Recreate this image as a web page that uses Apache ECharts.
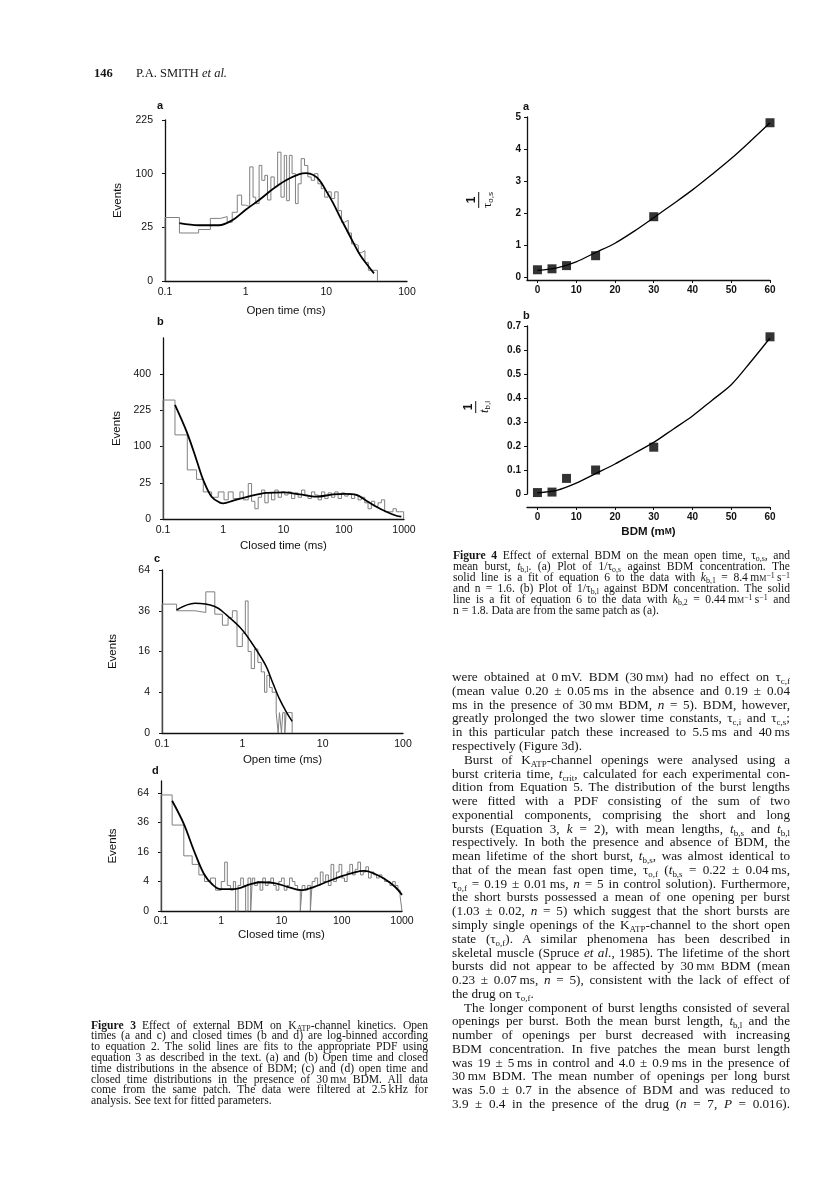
<!DOCTYPE html>
<html><head><meta charset="utf-8">
<script src="https://cdn.jsdelivr.net/npm/echarts@6/dist/echarts.min.js"></script>
<style>
html,body{margin:0;padding:0;background:#fff;}
#page{position:relative;width:816px;height:1200px;overflow:hidden;background:#fff;}
#chart{position:absolute;left:0;top:0;width:816px;height:1200px;}
.ln{position:absolute;font-family:"Liberation Serif","Times New Roman",serif;color:#151515;white-space:nowrap;}
.ln sub{font-size:68%;vertical-align:-0.3em;line-height:0;}
.ln sup{font-size:68%;vertical-align:0.4em;line-height:0;}
.sc{font-variant:small-caps;}
.frac{position:absolute;transform:translate(-50%,-50%) rotate(-90deg);font-family:"Liberation Sans",Arial,sans-serif;color:#111;text-align:center;line-height:1;}
.frac .num{font-weight:bold;font-size:12px;padding-bottom:1px;}
.frac .den{border-top:1.3px solid #111;font-family:"Liberation Serif",serif;font-size:13px;padding-top:1px;}
.frac sub{font-family:"Liberation Sans",sans-serif;font-size:8px;vertical-align:-0.2em;}
</style></head>
<body><div id="page"><div id="chart"></div></div>
<script>
// ---------------- DATA ----------------
// Figure 3a : open times, no BDM  (bin edges in ms, events per bin)
const edgesA = [0.1,0.151,0.261,0.365,0.487,0.59,0.681,0.787,0.891,1.0,1.122,1.235,1.334,1.468,1.585,1.728,1.866,2.054,2.26,2.49,2.74,3.01,3.22,3.48,3.76,4.14,4.47,4.87,5.36,5.9,6.49,7.15,7.87,8.66,9.53,10.5,11.5,12.7,14.0,15.4,16.9,18.7,20.5,22.6,24.9,27.4,30.1,33.2,36.5,40.2,43.0];
const countsA = [35,20,23,34,36,30,41,64,50,48,113,61,52,116,88,97,57,94,77,144,61,137,56,137,100,52,82,130,116,94,88,100,82,74,61,69,59,69,43,30,32,20,12,11,7,8,3,1,1,1];
const fitA_t = [0.151,0.261,0.464,0.681,1.0,1.468,2.154,3.162,4.64,5.62,6.81,8.25,10,12.1,14.7,17.8,21.5,26.1,31.6,39];
const fitA_n = [29,27,27,32,44,57,73,88,99,101,98,88,70,53,36,23,13,6,2.5,0.5];

// Figure 3b : closed times, no BDM
const edgesB = [0.1,0.158,0.253,0.361,0.466,0.641,0.826,1.03,1.21,1.46,1.89,2.15,2.6,2.95,3.35,3.8,4.32,4.9,5.57,6.32,7.18,8.16,9.27,10.5,11.9,13.6,15.4,17.5,19.9,22.6,25.6,29.1,33.1,37.6,42.7,48.4,55,62.5,71,80.6,91.5,104,118,134,152,173,196,223,253,287,326,371,421,478,523,578,657,746,847,986];
const countsB = [270,135,46,30,14,9,14,7,14,8,14,7,24,6,2,9,16,5,13,7,16,9,14,11,14,8,13,9,16,11,8,14,11,7,14,8,13,9,14,8,13,10,12,8,11,7,9,5,2,6,3,5,7,1,1,1,2,1,1];
const fitB_t = [0.158,0.253,0.361,0.466,0.641,0.88,1.0,1.46,2.77,5.23,10.2,18.7,35.3,66.4,104,162,237,348,510,746,904];
const fitB_n = [248,140,66,29,9.5,5.1,4.7,6.4,10,13,13.6,11.5,9.5,11.5,12,11,6.4,2.9,1,0.2,0.1];

// Figure 3c : open times, 30 mM BDM
const edgesC = [0.1,0.152,0.257,0.351,0.454,0.565,0.664,0.752,0.859,1.0,1.09,1.18,1.29,1.42,1.56,1.72,1.89,2.02,2.18,2.35,2.64,2.79,2.90,3.07,3.19,3.38,3.51,3.72,3.86,4.17];
const countsC = [40,36,35,48,34,28,32,36,18,24,42,16,10,17,12,9,4,8,5,4,1,0,1,0,1,0,1,1,1];
const fitC_t = [0.152,0.257,0.454,0.633,1.0,1.49,1.98,2.4,2.9,3.51,4.17];
const fitC_n = [36.5,40.5,38.5,33.6,25.6,16.7,10.7,6,2.8,1.1,0.33];

// Figure 3d : closed times, 30 mM BDM
const edgesD = [0.1,0.153,0.239,0.329,0.425,0.528,0.664,0.804,1.0,1.14,1.26,1.43,1.59,1.73,1.9,2.1,2.33,2.54,2.78,3.08,3.29,3.59,3.98,4.41,4.89,5.41,6.0,6.64,7.36,8.15,9.03,10,11.1,12.3,13.6,15.1,16.7,18.5,20.5,22.1,24.5,27.1,30.1,32.4,35.9,39.8,44.1,48.9,54.1,60,66.4,73.6,81.5,90.3,100,111,123,136,151,167,185,205,227,251,278,308,342,378,419,464,514,570,631,699,774,858,930,1000];
const countsD = [62,34,14,10,6,4,5,2,4,11,3,2,4,0,3,5,3,0,5,0,5,3,4,2,5,3,4,5,3,2,4,5,2,3,5,4,3,2,0,3,2,3,0,4,5,3,7,4,6,3,10,4,7,10,5,4,7,10,6,8,11,6,7,9,5,7,6,5,6,5,4,4,3,4,3,2,1];
const fitD_t = [0.153,0.239,0.35,0.514,0.708,0.975,1.63,3.08,4.52,7.55,12.6,21,35,58.5,97.5,163,237,350,516,764,1000];
const fitD_n = [56,35,17,6.4,3.3,2.2,2.2,3.3,3.8,3.6,2.7,2.0,2.7,4.0,5.5,6.9,7.4,6.4,4.7,2.7,1.2];

// Figure 4 : rates against BDM concentration (mM)
const bdmConc = [0,3.75,7.5,15,30,60];
const invTauOS = [0.22,0.25,0.35,0.66,1.88,4.82];
const invTbL = [0.006,0.008,0.065,0.1,0.195,0.655];
const fit4a_x = [0,5,10,15,20,25,30,35,40,45,50,55,60];
const fit4a_y = [0.2,0.28,0.47,0.76,1.05,1.43,1.85,2.28,2.72,3.2,3.7,4.25,4.82];
const fit4b_x = [0,5,10,15,20,25,30,35,40,45,50,55,60];
const fit4b_y = [0.005,0.015,0.045,0.085,0.125,0.17,0.215,0.27,0.325,0.39,0.455,0.55,0.65];

// Tick labels
const eventTicksAB = [0,25,100,225];
const eventTicksB = [0,25,100,225,400];
const eventTicksCD = [0,4,16,36,64];
const concTicks = [0,10,20,30,40,50,60];
const rateTicksA = [0,1,2,3,4,5];
const rateTicksB = [0,0.1,0.2,0.3,0.4,0.5,0.6,0.7];

// ---------------- BUILD ----------------
const SANS = '"Liberation Sans", Arial, sans-serif';
function stairs(edges, counts){
  const pts=[[edges[0],0]];
  for(let i=0;i<counts.length;i++){const h=Math.sqrt(counts[i]);pts.push([edges[i],h],[edges[i+1],h]);}
  pts.push([edges[edges.length-1],0]);
  return pts;
}
function sq(t,n){return t.map((x,i)=>[x,Math.sqrt(n[i])]);}
const axLine = {show:true,onZero:false,lineStyle:{color:'#111',width:1.3}};
function histX(g,max,name,gap,margin){
  return {type:'log',logBase:10,gridIndex:g,min:0.1,max:max,splitLine:{show:false},
    axisLine:axLine,axisTick:{show:false},minorTick:{show:false},
    axisLabel:{margin:margin||6,fontSize:10.5,color:'#111',fontFamily:SANS,
      formatter:v=>v<0.5?'0.1':String(Math.round(v))},
    name:name,nameLocation:'middle',nameGap:gap,
    nameTextStyle:{fontSize:11.5,color:'#111',fontFamily:SANS}};
}
function histY(g,maxCount,ticks,gap){
  const cv=ticks.map(Math.sqrt);
  return {type:'value',gridIndex:g,min:0,max:Math.sqrt(maxCount),splitLine:{show:false},
    axisLine:axLine,axisTick:{show:true,length:3,customValues:cv,lineStyle:{color:'#111'}},
    axisLabel:{customValues:cv,margin:12,fontSize:10.5,color:'#111',fontFamily:SANS,
      formatter:v=>String(Math.round(v*v))},
    name:'Events',nameLocation:'middle',nameRotate:90,nameGap:gap,
    nameTextStyle:{fontSize:11.5,color:'#111',fontFamily:SANS}};
}
function concX(g,offset,name){
  const o={type:'value',gridIndex:g,min:-2.7,max:60,offset:offset,splitLine:{show:false},
    axisLine:axLine,axisTick:{show:true,length:3,customValues:concTicks,lineStyle:{color:'#111'}},
    axisLabel:{customValues:concTicks,margin:5,fontSize:10,fontWeight:'bold',color:'#111',fontFamily:SANS}};
  if(name){o.name=name;o.nameLocation='middle';o.nameGap=19;
    o.nameTextStyle={fontSize:11.5,fontWeight:'bold',color:'#111',fontFamily:SANS,rich:{s:{fontSize:8.5,fontWeight:'bold',fontFamily:SANS,color:'#111'}}};}
  return o;
}
function rateY(g,min,max,ticks){
  return {type:'value',gridIndex:g,min:min,max:max,splitLine:{show:false},
    axisLine:axLine,axisTick:{show:true,length:3,customValues:ticks,lineStyle:{color:'#111'}},
    axisLabel:{customValues:ticks,margin:6,fontSize:10,fontWeight:'bold',color:'#111',fontFamily:SANS,
      formatter:v=>v===0?'0':String(Math.round(v*10)/10)}};
}
const histLine = {color:'#808080',width:1};
function hs(i,data){return {type:'line',xAxisIndex:i,yAxisIndex:i,data:data,symbol:'none',lineStyle:histLine,silent:true,z:2};}
function fs(i,data,w){return {type:'line',xAxisIndex:i,yAxisIndex:i,data:data,symbol:'none',smooth:0.35,lineStyle:{color:'#000',width:w||1.8},silent:true,z:3};}
function letter(t,l,tp){return {type:'text',left:l,top:tp,style:{text:t,font:'bold 11px "Liberation Sans"',fill:'#111'}};}

const option = {
  animation:false,
  backgroundColor:'transparent',
  grid:[
    {left:165,top:120,width:242,height:161,outerBoundsMode:'none'},
    {left:163,top:338,width:241,height:181,outerBoundsMode:'none'},
    {left:162,top:570,width:241,height:163,outerBoundsMode:'none'},
    {left:161,top:781,width:241,height:130,outerBoundsMode:'none'},
    {left:527,top:117,width:243,height:163,outerBoundsMode:'none'},
    {left:527,top:326,width:243,height:168,outerBoundsMode:'none'}
  ],
  xAxis:[
    histX(0,100,'Open time (ms)',24),
    histX(1,1000,'Closed time (ms)',21),
    histX(2,100,'Open time (ms)',21),
    histX(3,1000,'Closed time (ms)',18,5),
    concX(4,0,null),
    concX(5,13,'BDM (m{s|M})')
  ],
  yAxis:[
    histY(0,225,eventTicksAB,41),
    histY(1,625,eventTicksB,40),
    histY(2,64,eventTicksCD,43),
    histY(3,77.8,eventTicksCD,42),
    rateY(4,-0.1,5,rateTicksA),
    rateY(5,0,0.7,rateTicksB)
  ],
  series:[
    hs(0,stairs(edgesA,countsA)), fs(0,sq(fitA_t,fitA_n)),
    hs(1,stairs(edgesB,countsB)), fs(1,sq(fitB_t,fitB_n)),
    hs(2,stairs(edgesC,countsC)), fs(2,sq(fitC_t,fitC_n),1.5),
    hs(3,stairs(edgesD,countsD)), fs(3,sq(fitD_t,fitD_n)),
    {type:'line',xAxisIndex:4,yAxisIndex:4,data:fit4a_x.map((x,i)=>[x,fit4a_y[i]]),symbol:'none',smooth:0.3,lineStyle:{color:'#000',width:1.3},z:2},
    {type:'scatter',xAxisIndex:4,yAxisIndex:4,data:bdmConc.map((x,i)=>[x,invTauOS[i]]),symbol:'rect',symbolSize:9,itemStyle:{color:'#000'},z:3},
    {type:'line',xAxisIndex:5,yAxisIndex:5,data:fit4b_x.map((x,i)=>[x,fit4b_y[i]]),symbol:'none',smooth:0.3,lineStyle:{color:'#000',width:1.3},z:2},
    {type:'scatter',xAxisIndex:5,yAxisIndex:5,data:bdmConc.map((x,i)=>[x,invTbL[i]]),symbol:'rect',symbolSize:9,itemStyle:{color:'#000'},z:3}
  ],
  graphic:[
    letter('a',157,100), letter('b',157,316), letter('c',154,553), letter('d',152,765),
    letter('a',523,101), letter('b',523,310)
  ]
};
const chart = echarts.init(document.getElementById('chart'),null,{renderer:'canvas'});
chart.setOption(option);

// ---------------- TEXT ----------------
const page=document.getElementById('page');
const MM='m<span class="sc">m</span>';
const headerNum='146', headerAuth='P.A. SMITH <i>et al.</i>';
const fig3Caption=[
 '<b>Figure 3</b>&ensp;Effect of external BDM on K<sub>ATP</sub>-channel kinetics. Open',
 'times (a and c) and closed times (b and d) are log-binned according',
 'to equation 2. The solid lines are fits to the appropriate PDF using',
 'equation 3 as described in the text. (a) and (b) Open time and closed',
 'time distributions in the absence of BDM; (c) and (d) open time and',
 'closed time distributions in the presence of 30&thinsp;'+MM+' BDM. All data',
 'come from the same patch. The data were filtered at 2.5&thinsp;kHz for',
 'analysis. See text for fitted parameters.'
];
const fig4Caption=[
 '<b>Figure 4</b>&ensp;Effect of external BDM on the mean open time, τ<sub>o,s</sub>, and',
 'mean burst, <i>t</i><sub>b,l</sub>. (a) Plot of 1/τ<sub>o,s</sub> against BDM concentration. The',
 'solid line is a fit of equation 6 to the data with <i>k</i><sub>b,1</sub> = 8.4&thinsp;'+MM+'<sup>−1</sup>&thinsp;s<sup>−1</sup>',
 'and n = 1.6. (b) Plot of 1/τ<sub>b,l</sub> against BDM concentration. The solid',
 'line is a fit of equation 6 to the data with <i>k</i><sub>b,2</sub> = 0.44&thinsp;'+MM+'<sup>−1</sup>&thinsp;s<sup>−1</sup> and',
 'n = 1.8. Data are from the same patch as (a).'
];
const bodyText=[
 'were obtained at 0&thinsp;mV. BDM (30&thinsp;'+MM+') had no effect on τ<sub>c,f</sub>',
 '(mean value 0.20 ± 0.05&thinsp;ms in the absence and 0.19 ± 0.04',
 'ms in the presence of 30&thinsp;'+MM+' BDM, <i>n</i> = 5). BDM, however,',
 'greatly prolonged the two slower time constants, τ<sub>c,i</sub> and τ<sub>c,s</sub>;',
 'in this particular patch these increased to 5.5&thinsp;ms and 40&thinsp;ms',
 'respectively (Figure 3d).',
 'Burst of K<sub>ATP</sub>-channel openings were analysed using a',
 'burst criteria time, <i>t</i><sub>crit</sub>, calculated for each experimental con-',
 'dition from Equation 5. The distribution of the burst lengths',
 'were fitted with a PDF consisting of the sum of two',
 'exponential components, comprising the short and long',
 'bursts (Equation 3, <i>k</i> = 2), with mean lengths, <i>t</i><sub>b,s</sub> and <i>t</i><sub>b,l</sub>',
 'respectively. In both the presence and absence of BDM, the',
 'mean lifetime of the short burst, <i>t</i><sub>b,s</sub>, was almost identical to',
 'that of the mean fast open time, τ<sub>o,f</sub> (<i>t</i><sub>b,s</sub> = 0.22 ± 0.04&thinsp;ms,',
 'τ<sub>o,f</sub> = 0.19 ± 0.01&thinsp;ms, <i>n</i> = 5 in control solution). Furthermore,',
 'the short bursts possessed a mean of one opening per burst',
 '(1.03 ± 0.02, <i>n</i> = 5) which suggest that the short bursts are',
 'simply single openings of the K<sub>ATP</sub>-channel to the short open',
 'state (τ<sub>o,f</sub>). A similar phenomena has been described in',
 'skeletal muscle (Spruce <i>et al</i>., 1985). The lifetime of the short',
 'bursts did not appear to be affected by 30&thinsp;'+MM+' BDM (mean',
 '0.23 ± 0.07&thinsp;ms, <i>n</i> = 5), consistent with the lack of effect of',
 'the drug on τ<sub>o,f</sub>.',
 'The longer component of burst lengths consisted of several',
 'openings per burst. Both the mean burst length, <i>t</i><sub>b,l</sub> and the',
 'number of openings per burst decreased with increasing',
 'BDM concentration. In five patches the mean burst length',
 'was 19 ± 5&thinsp;ms in control and 4.0 ± 0.9&thinsp;ms in the presence of',
 '30&thinsp;'+MM+' BDM. The mean number of openings per long burst',
 'was 5.0 ± 0.7 in the absence of BDM and was reduced to',
 '3.9 ± 0.4 in the presence of the drug (<i>n</i> = 7, <i>P</i> = 0.016).'
];

function placeLines(lines,o){
  lines.forEach((html,i)=>{
    const d=document.createElement('div');d.className='ln';
    const cy=o.top+i*o.step;
    d.style.left=o.left+'px';d.style.top=(cy-o.step/2)+'px';
    d.style.height=o.step+'px';d.style.lineHeight=o.step+'px';d.style.fontSize=o.size+'px';
    const ind=(o.indent||[]).includes(i)?(o.indentPx||12):0;
    d.style.paddingLeft=ind+'px';
    const s=document.createElement('span');s.innerHTML=html;d.appendChild(s);page.appendChild(d);
    if(!(o.last||[]).includes(i)){
      const avail=o.width-ind;
      let w=s.getBoundingClientRect().width;
      if(w>avail){d.style.fontSize=(o.size*avail/w*0.995)+'px';w=s.getBoundingClientRect().width;}
      const n=(s.textContent.match(/[ \u00a0]/g)||[]).length;
      if(n>0)s.style.wordSpacing=((avail-w)/n)+'px';
    }
  });
}
function placeText(html,left,cy,size,extra){
  const d=document.createElement('div');d.className='ln';d.innerHTML=html;
  d.style.left=left+'px';d.style.top=(cy-size*0.6)+'px';d.style.fontSize=size+'px';d.style.lineHeight=(size*1.2)+'px';
  if(extra)Object.assign(d.style,extra);page.appendChild(d);
}
placeText(headerNum,94,73,12.5,{fontWeight:'bold'});
placeText(headerAuth,136,73,12.5);
placeLines(fig3Caption,{left:91,top:1026,step:10.8,width:337,size:11.6,last:[7]});
placeLines(fig4Caption,{left:453,top:555,step:11,width:337,size:11.6,last:[5]});
placeLines(bodyText,{left:452,top:677,step:13.77,width:338,size:13.2,last:[5,23],indent:[6,24],indentPx:12});

function frac(cx,cy,den){
  const d=document.createElement('div');d.className='frac';
  d.style.left=cx+'px';d.style.top=cy+'px';
  d.innerHTML='<div class="num">1</div><div class="den">'+den+'</div>';
  page.appendChild(d);
}
frac(480,200,'τ<sub>o,s</sub>');
frac(477,407,'<i>t</i><sub>b,l</sub>');
</script>
</body></html>
